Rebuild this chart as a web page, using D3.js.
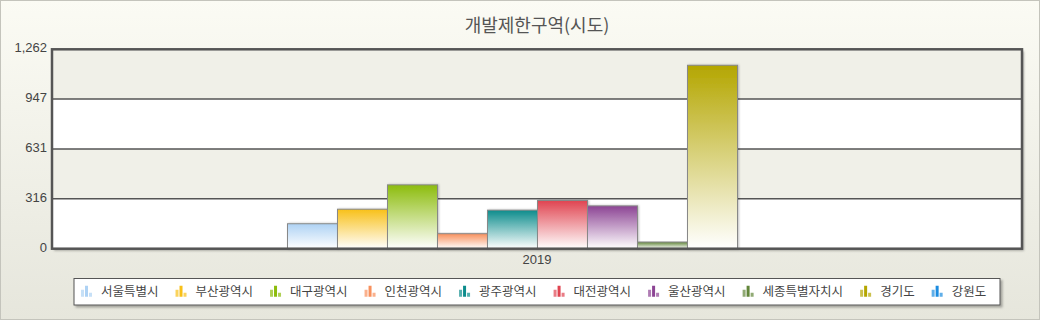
<!DOCTYPE html>
<html><head><meta charset="utf-8">
<script src="https://cdn.jsdelivr.net/npm/d3@7"></script>
<style>
html,body{margin:0;padding:0;background:#fff;}
svg{display:block;}
</style></head>
<body><svg id="c" width="1040" height="320"></svg>
<script>
const title = "개발제한구역(시도)";
const categories = ["2019"];
const seriesNames = ["서울특별시","부산광역시","대구광역시","인천광역시","광주광역시","대전광역시","울산광역시","세종특별자치시","경기도","강원도"];
const values2019 = [158, 250, 404, 95, 244, 305, 271, 42, 1161, 3];
const yTicks = [0, 316, 631, 947, 1262];
const colors = ["#aed2f4","#f8c018","#8cbc0c","#f8905c","#0c8c8c","#e04450","#8c4494","#62863a","#b4a600","#1c8ce0"];

const svg = d3.select("#c");
const W = 1040, H = 320;
const defs = svg.append("defs");

const bg = defs.append("linearGradient").attr("id","bg").attr("x1",0).attr("y1",0).attr("x2",0).attr("y2",1);
bg.append("stop").attr("offset","0%").attr("stop-color","#fbfbf4");
bg.append("stop").attr("offset","100%").attr("stop-color","#e6e6dc");
svg.append("rect").attr("x",0.5).attr("y",0.5).attr("width",W-1).attr("height",H-1)
  .attr("fill","url(#bg)").attr("stroke","#c4c4bc");

const shadow = defs.append("filter").attr("id","sh").attr("x","-10%").attr("y","-10%").attr("width","130%").attr("height","130%");
shadow.append("feDropShadow").attr("dx",2).attr("dy",2).attr("stdDeviation",1).attr("flood-color","#000").attr("flood-opacity",0.3);
const shadowBar = defs.append("filter").attr("id","shb").attr("x","-10%").attr("y","-10%").attr("width","130%").attr("height","130%");
shadowBar.append("feDropShadow").attr("dx",1).attr("dy",0).attr("stdDeviation",0.8).attr("flood-color","#000").attr("flood-opacity",0.25);

const L = 52, R = 1022, T = 49.3, B = 248.7;

const y = d3.scaleLinear().domain([0, 1262]).range([B, T]);
const x0 = d3.scaleBand().domain(categories).range([L, R]).paddingInner(0).paddingOuter(0.47);
const x1 = d3.scaleBand().domain(seriesNames).range([0, x0.bandwidth()]);

svg.append("text").attr("x", (L+R)/2).attr("y", 32).attr("text-anchor","middle")
  .attr("font-family","'Noto Sans CJK KR', sans-serif").attr("font-size",18)
  .attr("fill","#555").text(title);

const g = svg.append("g");
g.append("rect").attr("x",L).attr("y",T).attr("width",R-L).attr("height",B-T)
  .attr("fill","#fff").attr("filter","url(#sh)");
for (let i = 0; i < yTicks.length-1; i++) {
  const top = y(yTicks[i+1]), bot = y(yTicks[i]);
  g.append("rect").attr("x",L).attr("y",top).attr("width",R-L).attr("height",bot-top)
    .attr("fill", i % 2 === 0 ? "#ffffff" : "#f0f0e8");
}
g.selectAll("line.grid").data(yTicks.slice(1,-1)).join("line")
  .attr("x1",L).attr("x2",R).attr("y1",d=>y(d)).attr("y2",d=>y(d))
  .attr("stroke","#555").attr("stroke-width",1.5);

seriesNames.forEach((s,i)=>{
  const gr = defs.append("linearGradient").attr("id","g"+i).attr("x1",0).attr("y1",0).attr("x2",0).attr("y2",1);
  gr.append("stop").attr("offset","0%").attr("stop-color",colors[i]);
  gr.append("stop").attr("offset","100%").attr("stop-color","#ffffff");
});
const bars = g.append("g");
categories.forEach((c,ci)=>{
  bars.selectAll("rect.b"+ci).data(seriesNames.map((s,i)=>({s,i,v:values2019[i]}))).join("rect")
    .attr("x", d=> x0(c) + x1(d.s) + 0.5)
    .attr("y", d=> y(d.v))
    .attr("width", x1.bandwidth())
    .attr("height", d=> y(0)-y(d.v))
    .attr("fill", d=>"url(#g"+d.i+")")
    .attr("stroke","#888").attr("stroke-width",1)
    .attr("filter","url(#shb)");
});

g.append("rect").attr("x",L).attr("y",T).attr("width",R-L).attr("height",B-T)
  .attr("fill","none").attr("stroke","#555").attr("stroke-width",2.5);

const yAxis = d3.axisLeft(y).tickValues(yTicks).tickSize(0).tickFormat(d3.format(","));
const ya = svg.append("g").attr("transform",`translate(${L-1},0)`).call(yAxis);
ya.select(".domain").remove();
ya.selectAll(".tick line").remove();
ya.selectAll(".tick text").attr("font-family","'Liberation Sans Narrow', 'Liberation Sans', sans-serif")
  .attr("font-size",13).attr("fill","#444").attr("dy","0.2em").attr("x",-4);

const xAxis = d3.axisBottom(x0).tickSize(0);
const xa = svg.append("g").attr("transform",`translate(0,${B})`).call(xAxis);
xa.select(".domain").remove();
xa.selectAll(".tick text").attr("font-family","'Liberation Sans Narrow', 'Liberation Sans', sans-serif")
  .attr("font-size",13).attr("fill","#444").attr("dy","0.95em");

const lg = svg.append("g");
const lx = 74, ly = 278.5, lw = 926, lh = 26.5;
lg.append("rect").attr("x",lx).attr("y",ly).attr("width",lw).attr("height",lh)
  .attr("fill","#fff").attr("stroke","#555").attr("stroke-width",1).attr("filter","url(#sh)");
let cx = 81;
const cy = ly + lh/2;
seriesNames.forEach((s,i)=>{
  const it = lg.append("g").attr("transform",`translate(${cx},0)`);
  const light = d3.interpolateRgb(colors[i], "#fff")(0.3);
  const bh = [7, 11, 4];
  bh.forEach((h,k)=>{
    it.append("rect").attr("x",k*4).attr("y",cy+5-h).attr("width",3).attr("height",h)
      .attr("fill", k===1 ? colors[i] : light);
  });
  const t = it.append("text").attr("x",20).attr("y",cy).attr("dy","0.36em")
    .attr("font-family","'Noto Sans CJK KR', sans-serif").attr("font-size",12.5)
    .attr("fill","#444").text(s);
  const tw = t.node().getComputedTextLength();
  cx += 20 + tw + 17;
});
</script></body></html>
